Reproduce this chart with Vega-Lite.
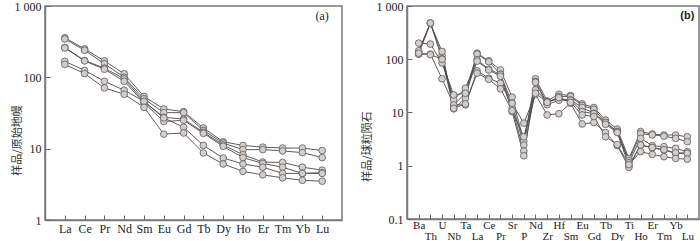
{
  "$schema": "https://vega.github.io/schema/vega-lite/v6.json",
  "padding": {"left": 10, "top": -1, "right": 3, "bottom": 0},
  "spacing": 65,
  "bounds": "flush",
  "config": {
    "view": {"stroke": "#7a7a7a", "strokeWidth": 1.5},
    "axis": {
      "grid": false,
      "domainColor": "#7a7a7a",
      "domainWidth": 1.5,
      "tickColor": "#666",
      "tickSize": -5,
      "tickWidth": 1,
      "labelFont": "Liberation Serif",
      "labelFontSize": 12,
      "labelColor": "#222",
      "titleFont": "Noto Sans CJK SC",
      "titleFontSize": 11,
      "titleFontWeight": "normal",
      "titleColor": "#333"
    }
  },
  "datasets": {
    "ree": [
      {"el": "La", "S1": 360, "S2": 345, "S3": 262, "S4": 258, "S5": 168, "S6": 152},
      {"el": "Ce", "S1": 250, "S2": 240, "S3": 172, "S4": 170, "S5": 125, "S6": 113},
      {"el": "Pr", "S1": 170, "S2": 155, "S3": 135, "S4": 130, "S5": 88, "S6": 71},
      {"el": "Nd", "S1": 112, "S2": 100, "S3": 95, "S4": 88, "S5": 66, "S6": 58},
      {"el": "Sm", "S1": 54, "S2": 50, "S3": 46, "S4": 44, "S5": 46, "S6": 38},
      {"el": "Eu", "S1": 36, "S2": 32, "S3": 27.5, "S4": 24, "S5": 27, "S6": 16},
      {"el": "Gd", "S1": 33, "S2": 32, "S3": 26, "S4": 25, "S5": 20, "S6": 16.6},
      {"el": "Tb", "S1": 19.5, "S2": 18, "S3": 17, "S4": 16.4, "S5": 11.1, "S6": 8.7},
      {"el": "Dy", "S1": 12.5, "S2": 12, "S3": 11.3, "S4": 10.8, "S5": 7.4, "S6": 6.1},
      {"el": "Ho", "S1": 11.1, "S2": 9.7, "S3": 8.2, "S4": 7.5, "S5": 6.1, "S6": 4.8},
      {"el": "Er", "S1": 10.5, "S2": 9.7, "S3": 6.5, "S4": 6.2, "S5": 5.5, "S6": 4.3},
      {"el": "Tm", "S1": 10.2, "S2": 9.3, "S3": 6.4, "S4": 5.5, "S5": 4.5, "S6": 3.9},
      {"el": "Yb", "S1": 10.2, "S2": 8.8, "S3": 5.5, "S4": 4.5, "S5": 4.5, "S6": 3.6},
      {"el": "Lu", "S1": 9.4, "S2": 7.5, "S3": 5.0, "S4": 4.6, "S5": 4.5, "S6": 3.5}
    ],
    "spider": [
      {"el": "Ba", "S1": 136, "S2": 125, "S3": 144, "S4": 201, "S5": 125, "S6": 130},
      {"el": "Th", "S1": 479, "S2": 470, "S3": 479, "S4": 193, "S5": 125, "S6": 122},
      {"el": "U", "S1": 118, "S2": 140, "S3": 102, "S4": 85, "S5": 43, "S6": 100},
      {"el": "Nb", "S1": 13.9, "S2": 11.7, "S3": 17.3, "S4": 21.4, "S5": 13.9, "S6": 12},
      {"el": "Ta", "S1": 23, "S2": 18.5, "S3": 28.6, "S4": 23, "S5": 13.9, "S6": 14.5},
      {"el": "La", "S1": 130, "S2": 125, "S3": 98, "S4": 92, "S5": 60.6, "S6": 54.8},
      {"el": "Ce", "S1": 93.6, "S2": 90, "S3": 65, "S4": 63, "S5": 44, "S6": 42},
      {"el": "Pr", "S1": 63, "S2": 52.5, "S3": 52, "S4": 48, "S5": 35.5, "S6": 27.8},
      {"el": "Sr", "S1": 19.4, "S2": 14.9, "S3": 12, "S4": 10.4, "S5": 14.9, "S6": 10.8},
      {"el": "P", "S1": 2.9, "S2": 2.45, "S3": 1.89, "S4": 1.54, "S5": 6.3, "S6": 3.5},
      {"el": "Nd", "S1": 42.9, "S2": 38.2, "S3": 26.6, "S4": 37, "S5": 22, "S6": 23},
      {"el": "Zr", "S1": 16.5, "S2": 14.9, "S3": 16, "S4": 14, "S5": 9.0, "S6": 15.5},
      {"el": "Hf", "S1": 22, "S2": 20, "S3": 18, "S4": 17, "S5": 9.5, "S6": 19},
      {"el": "Sm", "S1": 20.8, "S2": 20, "S3": 17.3, "S4": 17, "S5": 14.9, "S6": 15.5},
      {"el": "Eu", "S1": 14.5, "S2": 13.5, "S3": 12.4, "S4": 10.4, "S5": 6.1, "S6": 9},
      {"el": "Gd", "S1": 12.4, "S2": 11.5, "S3": 9.7, "S4": 9.5, "S5": 6.5, "S6": 8.4},
      {"el": "Tb", "S1": 7.2, "S2": 6.5, "S3": 6.5, "S4": 6.0, "S5": 4.2, "S6": 3.5},
      {"el": "Dy", "S1": 4.9, "S2": 4.4, "S3": 4.4, "S4": 4.2, "S5": 2.4, "S6": 2.5},
      {"el": "Ti", "S1": 1.37, "S2": 1.25, "S3": 1.14, "S4": 1.0, "S5": 0.93, "S6": 1.05},
      {"el": "Ho", "S1": 4.4, "S2": 4.0, "S3": 3.27, "S4": 2.45, "S5": 2.45, "S6": 1.84},
      {"el": "Er", "S1": 3.95, "S2": 3.8, "S3": 2.38, "S4": 2.18, "S5": 2.2, "S6": 1.63},
      {"el": "Tm", "S1": 3.78, "S2": 3.6, "S3": 2.28, "S4": 1.97, "S5": 2.0, "S6": 1.48},
      {"el": "Yb", "S1": 3.78, "S2": 3.27, "S3": 2.12, "S4": 1.71, "S5": 1.75, "S6": 1.37},
      {"el": "Lu", "S1": 3.5, "S2": 2.83, "S3": 1.84, "S4": 1.71, "S5": 1.72, "S6": 1.33}
    ]
  },
  "hconcat": [
    {
      "width": 297,
      "height": 214,
      "layer": [
        {
          "data": {"name": "ree"},
          "transform": [{"fold": ["S1", "S2", "S3", "S4", "S5", "S6"], "as": ["s", "v"]}],
          "layer": [
            {
              "mark": {"type": "line", "stroke": "#4a4a4a", "strokeWidth": 0.9},
              "encoding": {"detail": {"field": "s"}, "order": {"value": null}}
            },
            {
              "mark": {"type": "point", "shape": "circle", "filled": true, "fill": "#d4cecb", "stroke": "#5a5a5a", "strokeWidth": 0.8, "size": 45, "opacity": 1}
            }
          ],
          "encoding": {
            "x": {
              "field": "el", "type": "ordinal",
              "sort": ["La","Ce","Pr","Nd","Sm","Eu","Gd","Tb","Dy","Ho","Er","Tm","Yb","Lu"],
              "scale": {"type": "point", "padding": 1},
              "axis": {"title": null, "labelAngle": 0, "labelPadding": 8, "labelOverlap": false}
            },
            "y": {
              "field": "v", "type": "quantitative",
              "scale": {"type": "log", "domain": [1, 1000]},
              "axis": {
                "title": "样品/原始地幔",
                "values": [1, 10, 100, 1000],
                "format": "~g",
                "labelExpr": "datum.value == 1000 ? '1 000' : datum.label",
                "labelPadding": 9,
                "titleX": -28,
                "titleY": 134,
                "titleAlign": "center",
                "titleAngle": -90,
                "titleBaseline": "middle"
              }
            }
          }
        },
        {
          "data": {"values": [{"el": "Lu", "v": 720, "t": "(a)"}]},
          "mark": {"type": "text", "font": "Liberation Serif", "fontSize": 12, "color": "#222", "align": "center", "baseline": "middle"},
          "encoding": {
            "x": {"field": "el", "type": "ordinal", "sort": ["La","Ce","Pr","Nd","Sm","Eu","Gd","Tb","Dy","Ho","Er","Tm","Yb","Lu"]},
            "y": {"field": "v", "type": "quantitative"},
            "text": {"field": "t"}
          }
        }
      ]
    },
    {
      "width": 292,
      "height": 213,
      "layer": [
        {
          "data": {"name": "spider"},
          "transform": [{"fold": ["S1", "S2", "S3", "S4", "S5", "S6"], "as": ["s", "v"]}],
          "layer": [
            {
              "mark": {"type": "line", "stroke": "#4a4a4a", "strokeWidth": 0.9},
              "encoding": {"detail": {"field": "s"}, "order": {"value": null}}
            },
            {
              "mark": {"type": "point", "shape": "circle", "filled": true, "fill": "#d4cecb", "stroke": "#5a5a5a", "strokeWidth": 0.8, "size": 45, "opacity": 1}
            }
          ],
          "encoding": {
            "x": {
              "field": "el", "type": "ordinal",
              "sort": ["Ba","Th","U","Nb","Ta","La","Ce","Pr","Sr","P","Nd","Zr","Hf","Sm","Eu","Gd","Tb","Dy","Ti","Ho","Er","Tm","Yb","Lu"],
              "scale": {"type": "point", "padding": 1},
              "axis": {
                "title": null, "labelAngle": 0, "labelOverlap": false, "labelFontSize": 11,
                "labelPadding": {"condition": {"test": "indexof(['Th','Nb','La','Pr','P','Zr','Sm','Gd','Dy','Ho','Tm','Lu'], datum.value) >= 0", "value": 16}, "value": 5}
              }
            },
            "y": {
              "field": "v", "type": "quantitative",
              "scale": {"type": "log", "domain": [0.1, 1000]},
              "axis": {
                "title": "样品/球粒陨石",
                "values": [0.1, 1, 10, 100, 1000],
                "format": "~g",
                "labelExpr": "datum.value == 1000 ? '1 000' : datum.label",
                "labelPadding": 9,
                "titleX": -40,
                "titleY": 140,
                "titleAlign": "center",
                "titleAngle": -90,
                "titleBaseline": "middle"
              }
            }
          }
        },
        {
          "data": {"values": [{"el": "Lu", "v": 640, "t": "(b)"}]},
          "mark": {"type": "text", "font": "Liberation Sans", "fontWeight": "bold", "fontSize": 11, "color": "#222", "align": "center", "baseline": "middle"},
          "encoding": {
            "x": {"field": "el", "type": "ordinal", "sort": ["Ba","Th","U","Nb","Ta","La","Ce","Pr","Sr","P","Nd","Zr","Hf","Sm","Eu","Gd","Tb","Dy","Ti","Ho","Er","Tm","Yb","Lu"]},
            "y": {"field": "v", "type": "quantitative"},
            "text": {"field": "t"}
          }
        }
      ]
    }
  ]
}
